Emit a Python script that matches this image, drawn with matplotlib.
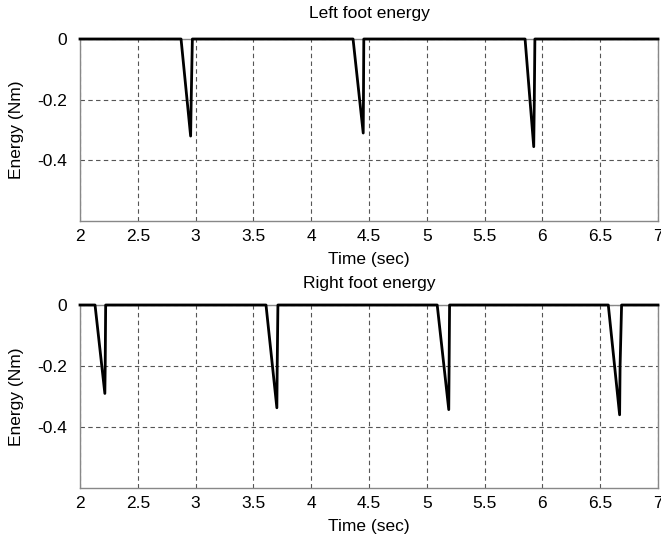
import matplotlib
matplotlib.use("Agg")
import matplotlib.pyplot as plt

plt.rcParams['font.family'] = ['Liberation Sans', 'DejaVu Sans']

# Left foot energy: piecewise points (time, energy)
left_t = [2.0, 2.874, 2.957, 2.962, 2.972, 4.362, 4.450, 4.452, 4.455, 5.850, 5.925, 5.930, 5.935, 7.0]
left_E = [0.0, 0.0, -0.32, -0.20, 0.0, 0.0, -0.31, -0.20, 0.0, 0.0, -0.355, -0.20, 0.0, 0.0]

# Right foot energy
right_t = [2.0, 2.130, 2.215, 2.218, 2.222, 3.609, 3.703, 3.706, 3.712, 5.090, 5.190, 5.193, 5.197, 6.570, 6.668, 6.672, 6.685, 7.0]
right_E = [0.0, 0.0, -0.29, -0.20, 0.0, 0.0, -0.337, -0.20, 0.0, 0.0, -0.343, -0.20, 0.0, 0.0, -0.36, -0.20, 0.0, 0.0]

x_ticks = [2, 2.5, 3, 3.5, 4, 4.5, 5, 5.5, 6, 6.5, 7]
x_ticklabels = ['2', '2.5', '3', '3.5', '4', '4.5', '5', '5.5', '6', '6.5', '7']
y_ticks = [0, -0.2, -0.4]
y_ticklabels = ['0', '-0.2', '-0.4']

fig = plt.figure(figsize=(6.61, 5.46), dpi=100)
W, H = 661, 546

def make_ax(top_px, bottom_px, t, E, title, title_pad):
    ax = fig.add_axes([80 / W, 1 - bottom_px / H, 578 / W, (bottom_px - top_px) / H])
    ax.plot(t, E, color='black', lw=2.0, clip_on=False, zorder=5)
    ax.set_xlim(2, 7)
    ax.set_ylim(-0.6, 0)
    ax.set_xticks(x_ticks)
    ax.set_xticklabels(x_ticklabels)
    ax.set_yticks(y_ticks)
    ax.set_yticklabels(y_ticklabels)
    ax.grid(True, linestyle=(0, (4, 3)), color='#555555', lw=0.8)
    for s in ax.spines.values():
        s.set_color('#888888')
        s.set_linewidth(1.0)
    ax.tick_params(axis='y', direction='in', length=0, labelsize=12.5, colors='black', pad=9)
    ax.tick_params(axis='x', direction='in', length=0, labelsize=12.5, colors='black', pad=5.5)
    ax.set_xlabel('Time (sec)', fontsize=12.5, labelpad=6)
    ax.set_ylabel('Energy (Nm)', fontsize=12.5, labelpad=10)
    ax.set_title(title, fontsize=12.5, pad=title_pad)
    return ax

make_ax(39, 221, left_t, left_E, 'Left foot energy', 15)
make_ax(305, 488, right_t, right_E, 'Right foot energy', 12)

fig.savefig('out.png', dpi=100)
